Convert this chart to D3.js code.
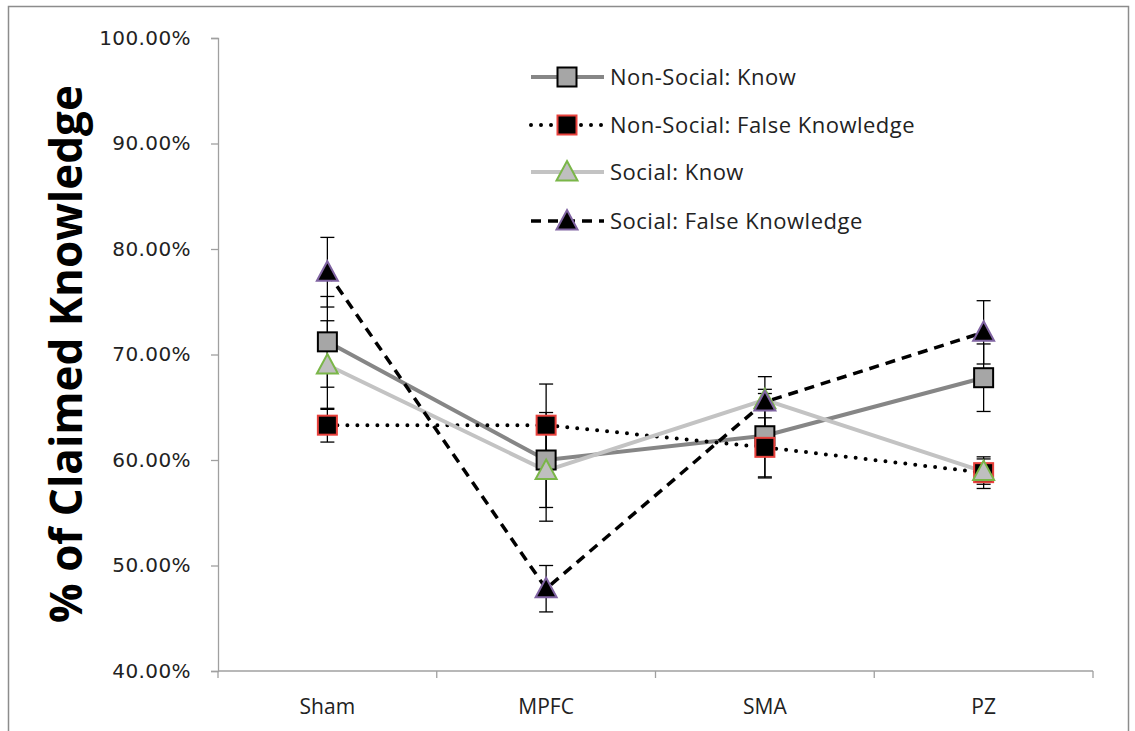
<!DOCTYPE html>
<html>
<head>
<meta charset="utf-8">
<script src="https://cdn.jsdelivr.net/npm/d3@7"></script>
<style>
  body { margin: 0; background: #fff; }
</style>
</head>
<body>
<script>
const categories = ['Sham', 'MPFC', 'SMA', 'PZ']
const yTicks = [0.4, 0.5, 0.6, 0.7, 0.8, 0.9, 1.0]

// means and error (+/-) for each series
const nonSocialKnow = [0.712, 0.600, 0.623, 0.678]
const nonSocialKnowErr = [0.043, 0.045, 0.040, 0.032]
const nonSocialFalse = [0.633, 0.633, 0.612, 0.588]
const nonSocialFalseErr = [0.016, 0.039, 0.028, 0.015]
const socialKnow = [0.690, 0.590, 0.657, 0.589]
const socialKnowErr = [0.042, 0.048, 0.010, 0.012]
const socialFalse = [0.778, 0.478, 0.655, 0.721]
const socialFalseErr = [0.033, 0.022, 0.024, 0.030]

const series = [
  { name: 'Non-Social: Know', values: nonSocialKnow, err: nonSocialKnowErr,
    line: '#868686', width: 4, dash: null, shape: 'square', fill: '#a6a6a6', edge: '#000000' },
  { name: 'Non-Social: False Knowledge', values: nonSocialFalse, err: nonSocialFalseErr,
    line: '#000000', width: 4, dash: '0 10', shape: 'square', fill: '#000000', edge: '#e8413c' },
  { name: 'Social: Know', values: socialKnow, err: socialKnowErr,
    line: '#c3c3c3', width: 4, dash: null, shape: 'triangle', fill: '#bfbfbf', edge: '#7ab648' },
  { name: 'Social: False Knowledge', values: socialFalse, err: socialFalseErr,
    line: '#000000', width: 3.5, dash: '10 7', shape: 'triangle', fill: '#000000', edge: '#8064a2' }
]

const width = 1135
const height = 731
const margin = { left: 218, top: 38, right: 42, bottom: 60 }

const svg = d3.select('body')
  .append('svg')
  .attr('width', width)
  .attr('height', height)

// chart frame
svg.append('rect')
  .attr('x', 8.5)
  .attr('y', 6.5)
  .attr('width', 1120)
  .attr('height', 760)
  .style('fill', '#fff')
  .style('stroke', '#8c8c8c')
  .style('stroke-width', 1.5)

const xScale = d3.scaleBand()
  .domain(categories)
  .range([margin.left, width - margin.right])

const yScale = d3.scaleLinear()
  .domain([0.4, 1.0])
  .range([height - margin.bottom, margin.top])

const axisColor = '#a0a0a0'

// y axis
const yAxisG = svg.append('g')
  .attr('transform', `translate(${margin.left},0)`)
  .call(d3.axisLeft(yScale).tickValues(yTicks).tickSize(7).tickPadding(20)
    .tickFormat(d => (d * 100).toFixed(2) + '%'))
yAxisG.select('.domain').attr('stroke', axisColor).attr('stroke-width', 1.3)
yAxisG.selectAll('.tick line').attr('stroke', axisColor).attr('stroke-width', 1.3)
yAxisG.selectAll('.tick text')
  .style('font-family', 'DejaVu Sans, sans-serif')
  .style('font-size', '20px')
  .style('letter-spacing', '0.4px')
  .style('fill', '#222')

// x axis, ticks on band edges
const xBase = height - margin.bottom
svg.append('line')
  .attr('x1', margin.left).attr('x2', width - margin.right)
  .attr('y1', xBase).attr('y2', xBase)
  .attr('stroke', axisColor).attr('stroke-width', 1.5)

const edges = categories.map(c => xScale(c)).concat([xScale(categories[3]) + xScale.bandwidth()])
svg.selectAll('.xtick')
  .data(edges)
  .enter()
  .append('line')
  .attr('class', 'xtick')
  .attr('x1', d => d).attr('x2', d => d)
  .attr('y1', xBase).attr('y2', xBase + 7)
  .attr('stroke', axisColor).attr('stroke-width', 1.3)

svg.selectAll('.xlabel')
  .data(categories)
  .enter()
  .append('text')
  .attr('class', 'xlabel')
  .attr('x', d => xScale(d) + xScale.bandwidth() / 2)
  .attr('y', xBase + 43)
  .attr('text-anchor', 'middle')
  .style('font-family', 'Open Sans, sans-serif')
  .style('font-size', '21px')
  .style('fill', '#222')
  .text(d => d)

// y axis title
svg.append('text')
  .attr('transform', 'translate(82,354) rotate(-90)')
  .attr('text-anchor', 'middle')
  .style('font-family', 'Open Sans, sans-serif')
  .style('font-weight', 'bold')
  .style('font-size', '44px')
  .style('fill', '#000')
  .text('% of Claimed Knowledge')

const cx = c => xScale(c) + xScale.bandwidth() / 2

// error bars
const capW = 7
series.forEach(s => {
  const g = svg.append('g')
  categories.forEach((c, i) => {
    const top = yScale(s.values[i] + s.err[i])
    const bot = yScale(s.values[i] - s.err[i])
    g.append('line').attr('x1', cx(c)).attr('x2', cx(c)).attr('y1', top).attr('y2', bot)
    g.append('line').attr('x1', cx(c) - capW).attr('x2', cx(c) + capW).attr('y1', top).attr('y2', top)
    g.append('line').attr('x1', cx(c) - capW).attr('x2', cx(c) + capW).attr('y1', bot).attr('y2', bot)
  })
  g.selectAll('line').attr('stroke', '#000').attr('stroke-width', 1.3)
})

const line = d3.line()
  .x((d, i) => cx(categories[i]))
  .y(d => yScale(d))

function drawMarker(g, s, x, y) {
  if (s.shape === 'square') {
    g.append('rect')
      .attr('x', x - 9.5).attr('y', y - 9.5)
      .attr('width', 19).attr('height', 19)
      .style('fill', s.fill).style('stroke', s.edge).style('stroke-width', 2)
  } else {
    g.append('path')
      .attr('d', `M${x},${y - 11}L${x + 10.5},${y + 8.5}L${x - 10.5},${y + 8.5}Z`)
      .style('fill', s.fill).style('stroke', s.edge).style('stroke-width', 2)
      .style('stroke-linejoin', 'miter')
  }
}

// series lines
series.forEach(s => {
  svg.append('path')
    .datum(s.values)
    .attr('d', line)
    .style('fill', 'none')
    .style('stroke', s.line)
    .style('stroke-width', s.width)
    .style('stroke-dasharray', s.dash)
    .style('stroke-linecap', s.dash === '0 10' ? 'round' : 'butt')
})

// markers
series.forEach(s => {
  const g = svg.append('g')
  s.values.forEach((v, i) => drawMarker(g, s, cx(categories[i]), yScale(v)))
})

// legend
const legendY = [77, 125, 172, 221]
const legend = svg.append('g')
series.forEach((s, i) => {
  const y = legendY[i]
  legend.append('line')
    .attr('x1', 531).attr('x2', 604)
    .attr('y1', y).attr('y2', y)
    .style('stroke', s.line)
    .style('stroke-width', s.width)
    .style('stroke-dasharray', s.dash)
    .style('stroke-linecap', s.dash === '0 10' ? 'round' : 'butt')
  drawMarker(legend, s, 567, y)
  legend.append('text')
    .attr('x', 610)
    .attr('y', y + 8)
    .style('font-family', 'Open Sans, sans-serif')
    .style('font-size', '22px')
    .style('letter-spacing', '0.5px')
    .style('fill', '#222')
    .text(s.name)
})
</script>
</body>
</html>
